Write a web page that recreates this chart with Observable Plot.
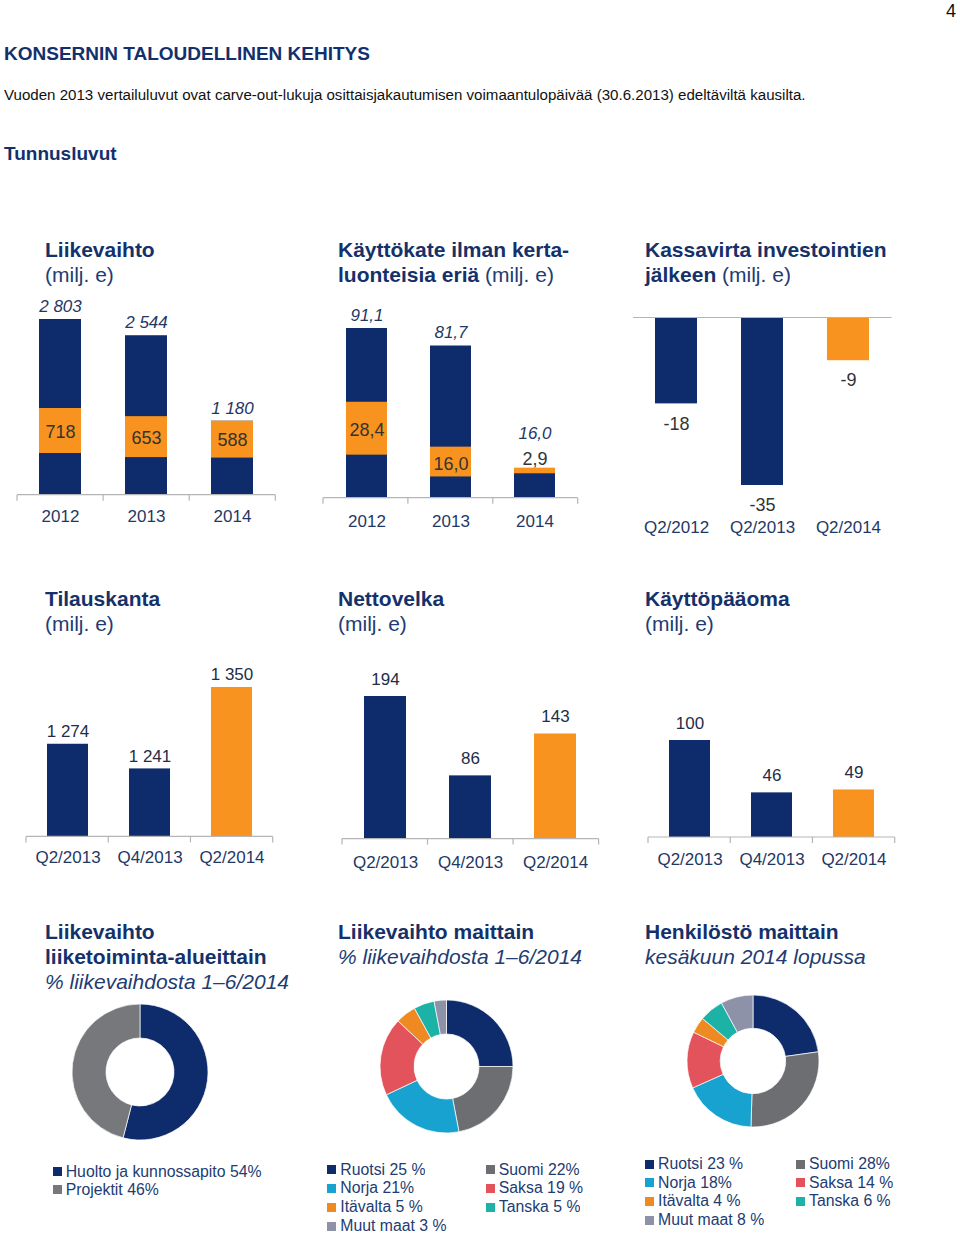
<!DOCTYPE html>
<html><head><meta charset="utf-8">
<script src="https://cdn.jsdelivr.net/npm/d3@7"></script>
<script src="https://cdn.jsdelivr.net/npm/@observablehq/plot@0.6"></script>
<style>
html,body{margin:0;padding:0;background:#fff;}
#page{position:relative;width:960px;height:1236px;overflow:hidden;font-family:"Liberation Sans",Arial,Helvetica,sans-serif;}
.t{position:absolute;white-space:nowrap;line-height:1;}
.lg-swatch{padding-bottom:0 !important;}
.lg-swatch > svg{margin-right:4px !important;}
</style></head><body><div id="page"></div>
<script>
// ---------- DATA ----------
const salesYears = ["2012", "2013", "2014"];
const salesTotal = [2803, 2544, 1180];
const salesQ2 = [718, 653, 588];
const salesQ1 = [665, 600, 592];

const ebitdaYears = ["2012", "2013", "2014"];
const ebitdaTotal = [91.1, 81.7, 16.0];
const ebitdaQ2 = [28.4, 16.0, 2.9];
const ebitdaQ1 = [23.1, 11.4, 13.1];

const cashPeriods = ["Q2/2012", "Q2/2013", "Q2/2014"];
const cashValues = [-18, -35, -9];

const balancePeriods = ["Q2/2013", "Q4/2013", "Q2/2014"];
const currentPeriod = "Q2/2014";
const orderValues = [1274, 1241, 1350];
const orderAxisMin = 1150;
const debtValues = [194, 86, 143];
const wcValues = [100, 46, 49];

const segmentNames = ["Huolto ja kunnossapito", "Projektit"];
const segmentShares = [54, 46];
const segmentLabels = ["Huolto ja kunnossapito 54%", "Projektit 46%"];
const segmentColors = ["#0e2c6b", "#77787b"];

const countryNames = ["Ruotsi", "Suomi", "Norja", "Saksa", "Itävalta", "Tanska", "Muut maat"];
const countryColors = ["#0e2c6b", "#6d6e71", "#17a2cf", "#e2535c", "#ef8a22", "#1db2a6", "#8e92a9"];
const salesCountryShares = [25, 22, 21, 19, 5, 5, 3];
const salesCountryLabels = ["Ruotsi 25 %", "Suomi 22%", "Norja 21%", "Saksa 19 %", "Itävalta 5 %", "Tanska 5 %", "Muut maat 3 %"];
const staffCountryShares = [23, 28, 18, 14, 4, 6, 8];
const staffCountryLabels = ["Ruotsi 23 %", "Suomi 28%", "Norja 18%", "Saksa 14 %", "Itävalta 4 %", "Tanska 6 %", "Muut maat 8 %"];

// ---------- STYLE ----------
const FONT = '"Liberation Sans", Arial, Helvetica, sans-serif';
const NAVY = "#0e2c6b", ORANGE = "#f7931e", TITLE = "#15316a", SUB = "#223c72";
const CAT = "#1f3866", VAL = "#232d47", INNER = "#333333", AXIS = "#b5b5b5";

const fi = d3.formatLocale({decimal: ",", thousands: "\u00a0", grouping: [3], currency: ["", " €"], minus: "-"});
const fmtInt = fi.format(",d");
const fmt1 = fi.format(".1f");

const page = document.getElementById("page");
function place(el, left, top) {
  el.style.position = "absolute";
  el.style.left = left + "px";
  el.style.top = top + "px";
  page.appendChild(el);
}
function label(html, x, baseline, size, {weight = "normal", style = "normal", color = TITLE} = {}) {
  const d = document.createElement("div");
  d.className = "t";
  d.innerHTML = html;
  d.style.fontSize = size + "px";
  d.style.fontWeight = weight;
  d.style.fontStyle = style;
  d.style.color = color;
  d.style.top = (baseline - 0.8465 * size) + "px";
  d.style.left = x + "px";
  page.appendChild(d);
}

// ---------- PAGE TEXT ----------
label("4", 946, 17.5, 18, {color: "#111"});
label("KONSERNIN TALOUDELLINEN KEHITYS", 4, 60.5, 19, {weight: "bold", color: "#11306c"});
label("Vuoden 2013 vertailuluvut ovat carve-out-lukuja osittaisjakautumisen voimaantulopäivää (30.6.2013) edeltäviltä kausilta.", 4, 99.5, 15.1, {color: "#111"});
label("Tunnusluvut", 4, 160, 19, {weight: "bold", color: "#11306c"});

const B = s => `<b>${s}</b>`;
const R = s => `<span style="font-weight:normal;color:${SUB}">${s}</span>`;
label(B("Liikevaihto"), 45, 257, 21);
label(R("(milj. e)"), 45, 281.5, 21);
label(B("Käyttökate ilman kerta-"), 338, 257, 21);
label(B("luonteisia eriä") + R(" (milj. e)"), 338, 281.5, 21);
label(B("Kassavirta investointien"), 645, 257, 21);
label(B("jälkeen") + R(" (milj. e)"), 645, 281.5, 21);

label(B("Tilauskanta"), 45, 606, 21);
label(R("(milj. e)"), 45, 631, 21);
label(B("Nettovelka"), 338, 606, 21);
label(R("(milj. e)"), 338, 631, 21);
label(B("Käyttöpääoma"), 645, 606, 21);
label(R("(milj. e)"), 645, 631, 21);

label(B("Liikevaihto"), 45, 938.5, 21);
label(B("liiketoiminta-alueittain"), 45, 963.5, 21);
label("% liikevaihdosta 1–6/2014", 45, 988.5, 21, {style: "italic", color: SUB});
label(B("Liikevaihto maittain"), 338, 938.5, 21);
label("% liikevaihdosta 1–6/2014", 338, 963.5, 21, {style: "italic", color: SUB});
label(B("Henkilöstö maittain"), 645, 938.5, 21);
label("kesäkuun 2014 lopussa", 645, 963.5, 21, {style: "italic", color: SUB});

// ---------- BAR CHARTS ----------
const M = {l: 30, r: 30, t: 70, b: 70};
function framePlot(frame, opts) {
  const {x0, x1, yTop, yBottom} = frame;
  const width = x1 - x0 + M.l + M.r, height = yBottom - yTop + M.t + M.b;
  const svg = Plot.plot({
    width, height, marginLeft: M.l, marginRight: M.r, marginTop: M.t, marginBottom: M.b,
    style: {fontFamily: FONT, fontSize: "17px", color: CAT, background: "transparent", overflow: "visible"},
    ...opts
  });
  place(svg, x0 - M.l, yTop - M.t);
}
const bandX = (domain, tickPadding, paddingInner = 0.51) =>
  ({type: "band", domain, paddingInner, paddingOuter: paddingInner / 2, tickSize: 0, tickPadding, label: null});

// baseline with tick marks at the category boundaries
function baseAxis(n, ticks = true) {
  return (index, scales, values, dims) => {
    const {width, height, marginLeft, marginRight, marginBottom} = dims;
    const y0 = height - marginBottom, x0 = marginLeft, x1 = width - marginRight;
    const g = d3.create("svg:g").attr("stroke", AXIS).attr("stroke-width", 1.2);
    g.append("line").attr("x1", x0).attr("x2", x1).attr("y1", y0).attr("y2", y0);
    if (ticks) for (let i = 0; i <= n; i++) {
      const x = x0 + (x1 - x0) * i / n;
      g.append("line").attr("x1", x).attr("x2", x).attr("y1", y0).attr("y2", y0 + 6);
    }
    return g.node();
  };
}

// 1. Liikevaihto
const sales = salesYears.map((cat, i) => ({cat, total: salesTotal[i], q2: salesQ2[i], lo: salesQ1[i], hi: salesQ1[i] + salesQ2[i]}));
framePlot({x0: 16.7, x1: 275, yTop: 319.3, yBottom: 495}, {
  x: bandX(salesYears, 15),
  y: {domain: [0, d3.max(salesTotal)], axis: null},
  marks: [
    Plot.barY(sales, {x: "cat", y: "total", fill: NAVY}),
    Plot.barY(sales, {x: "cat", y1: "lo", y2: "hi", fill: ORANGE}),
    baseAxis(salesYears.length),
    Plot.text(sales, {x: "cat", y: "total", text: d => fmtInt(d.total), dy: -13, fontStyle: "italic", fill: CAT}),
    Plot.text(sales, {x: "cat", y: d => (d.lo + d.hi) / 2, text: d => fmtInt(d.q2), dy: 1, fontSize: 18, fill: INNER})
  ]
});

// 2. Käyttökate
const ebitda = ebitdaYears.map((cat, i) => ({cat, total: ebitdaTotal[i], q2: ebitdaQ2[i], lo: ebitdaQ1[i], hi: ebitdaQ1[i] + ebitdaQ2[i]}));
const ebitdaMax = d3.max(ebitdaTotal);
const thin = d => d.q2 < ebitdaMax * 0.1;
framePlot({x0: 323.3, x1: 578, yTop: 328.3, yBottom: 498}, {
  x: bandX(ebitdaYears, 16.5),
  y: {domain: [0, ebitdaMax], axis: null},
  marks: [
    Plot.barY(ebitda, {x: "cat", y: "total", fill: NAVY}),
    Plot.barY(ebitda, {x: "cat", y1: "lo", y2: "hi", fill: ORANGE}),
    baseAxis(ebitdaYears.length),
    Plot.text(ebitda, {filter: d => !thin(d), x: "cat", y: "total", text: d => fmt1(d.total), dy: -13, fontStyle: "italic", fill: CAT}),
    Plot.text(ebitda, {filter: thin, x: "cat", y: "total", text: d => fmt1(d.total), dy: -35, fontStyle: "italic", fill: CAT}),
    Plot.text(ebitda, {filter: d => !thin(d), x: "cat", y: d => (d.lo + d.hi) / 2, text: d => fmt1(d.q2), dy: 2, fontSize: 18, fill: INNER}),
    Plot.text(ebitda, {filter: thin, x: "cat", y: "total", text: d => fmt1(d.q2), dy: -9, fontSize: 18, fill: INNER})
  ]
});

// 3. Kassavirta investointien jälkeen
const cash = cashPeriods.map((cat, i) => ({cat, value: cashValues[i]}));
framePlot({x0: 633, x1: 891.7, yTop: 317.3, yBottom: 485.3}, {
  x: bandX(cashPeriods, 35.5),
  y: {domain: [d3.min(cashValues), 0], axis: null},
  marks: [
    Plot.barY(cash, {filter: d => d.cat !== currentPeriod, x: "cat", y: "value", fill: NAVY}),
    Plot.barY(cash, {filter: d => d.cat === currentPeriod, x: "cat", y: "value", fill: ORANGE}),
    Plot.ruleY([0], {stroke: AXIS, strokeWidth: 1.2}),
    Plot.text(cash, {x: "cat", y: "value", text: d => fmtInt(d.value), dy: 20, fontSize: 18, fill: INNER})
  ]
});

// 4-6. Simple bar charts
function simpleBars(values, frame, tickPadding, labelDy, yDomain, extra = {}) {
  const data = balancePeriods.map((cat, i) => ({cat, value: values[i]}));
  framePlot(frame, {
    x: bandX(balancePeriods, tickPadding, 0.505),
    y: {domain: yDomain, axis: null, ...extra},
    marks: [
      Plot.barY(data, {filter: d => d.cat !== currentPeriod, x: "cat", y: "value", fill: NAVY}),
      Plot.barY(data, {filter: d => d.cat === currentPeriod, x: "cat", y: "value", fill: ORANGE}),
      baseAxis(balancePeriods.length),
      Plot.text(data, {x: "cat", y: "value", text: d => fmtInt(d.value), dy: labelDy, fill: VAL})
    ]
  });
}
simpleBars(orderValues, {x0: 26, x1: 272.7, yTop: 687.3, yBottom: 836.7}, 14, -12.5, [orderAxisMin, d3.max(orderValues)], {clamp: true});
simpleBars(debtValues, {x0: 341.7, x1: 598.3, yTop: 838.3 - 194 * 0.735, yBottom: 838.3}, 17, -17, [0, d3.max(debtValues)]);
simpleBars(wcValues, {x0: 648.3, x1: 895, yTop: 836.7 - 100 * 0.97, yBottom: 836.7}, 15.5, -17, [0, d3.max(wcValues)]);

// ---------- DONUTS ----------
function donut({cx, cy, r0, r1, names, values, colors}) {
  const size = 2 * r1 + 4;
  const data = names.map((name, i) => ({name, value: values[i]}));
  const arcs = (index, scales, vals, dims) => {
    const pie = d3.pie().sort(null).value(d => d.value)(data);
    const arc = d3.arc().innerRadius(r0).outerRadius(r1);
    const g = d3.create("svg:g").attr("transform", `translate(${dims.width / 2},${dims.height / 2})`);
    g.selectAll("path").data(pie).join("path")
      .attr("d", arc)
      .attr("fill", d => scales.color(d.data.name))
      .attr("stroke", "#fff").attr("stroke-width", 0.7);
    return g.node();
  };
  const svg = Plot.plot({
    width: size, height: size, margin: 0,
    style: {background: "transparent", overflow: "visible"},
    color: {type: "ordinal", domain: names, range: colors},
    marks: [Plot.dot(data, {fill: "name", r: 0}), arcs]
  });
  place(svg, cx - size / 2, cy - size / 2);
}
function legend({left, top, names, labels, colors, columns, width, rowHeight}) {
  // column-major ordering so CSS columns read row by row like the original
  const rows = Math.ceil(names.length / columns);
  const order = [];
  for (let c = 0; c < columns; c++) for (let r = 0; r < rows; r++) {
    const i = r * columns + c;
    if (i < names.length) order.push(i);
  }
  const lab = new Map(names.map((n, i) => [n, labels[i]]));
  const el = Plot.legend({
    color: {type: "ordinal", domain: order.map(i => names[i]), range: order.map(i => colors[i])},
    columns, swatchSize: 9, className: "lg",
    tickFormat: d => lab.get(d),
    style: `columns:${columns};column-gap:0px;font-family:${FONT};font-size:15.8px;color:${SUB};width:${width}px;line-height:${rowHeight}px;margin:0;`
  });
  place(el, left, top);
}

donut({cx: 140, cy: 1072, r0: 34, r1: 68, names: segmentNames, values: segmentShares, colors: segmentColors});
legend({left: 52.7, top: 1171.7 - 9.15, names: segmentNames, labels: segmentLabels, colors: segmentColors, columns: 1, width: 260, rowHeight: 18.3});

donut({cx: 446, cy: 1066.3, r0: 32.5, r1: 66.5, names: countryNames, values: salesCountryShares, colors: countryColors});
legend({left: 327.3, top: 1170 - 9.35, names: countryNames, labels: salesCountryLabels, colors: countryColors, columns: 2, width: 317, rowHeight: 18.7});

donut({cx: 753.3, cy: 1061, r0: 32.7, r1: 66, names: countryNames, values: staffCountryShares, colors: countryColors});
legend({left: 645, top: 1164.3 - 9.3, names: countryNames, labels: staffCountryLabels, colors: countryColors, columns: 2, width: 302, rowHeight: 18.6});
</script>
</body></html>
